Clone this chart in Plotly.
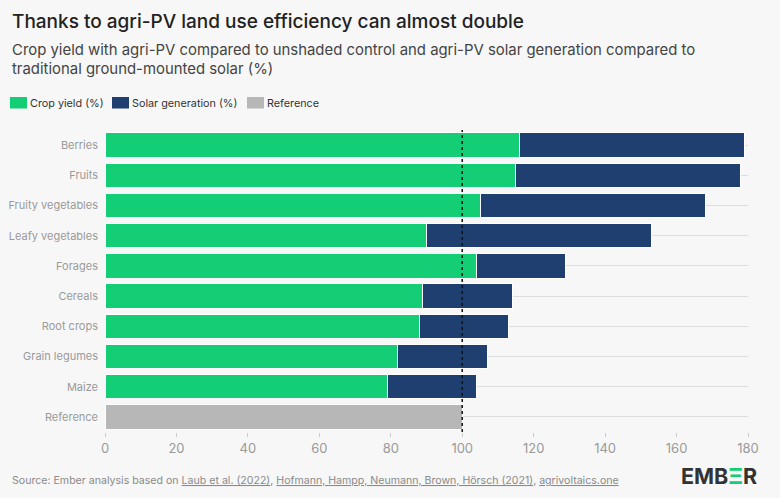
import plotly.graph_objects as go

categories = ["Berries", "Fruits", "Fruity vegetables", "Leafy vegetables", "Forages",
              "Cereals", "Root crops", "Grain legumes", "Maize", "Reference"]
crop_yield = [116, 115, 105, 90, 104, 89, 88, 82, 79, None]
solar_generation = [63, 63, 63, 63, 25, 25, 25, 25, 25, None]
reference = [None, None, None, None, None, None, None, None, None, 100]
x_ticks = [0, 20, 40, 60, 80, 100, 120, 140, 160, 180]

GREEN = "#13ce74"
BLUE = "#1f3f70"
GREY = "#b7b7b7"
BG = "#f7f7f7"
FONT = "Inter"

L, T, PW, PH = 105, 130, 643, 302


def px(x):
    return (x - L) / PW


def py(y):
    return 1 + (T - y) / PH


fig = go.Figure()
common = dict(orientation="h", y=categories, marker_line_color="white", marker_line_width=1,
              showlegend=False, hoverinfo="x+y")
fig.add_trace(go.Bar(x=crop_yield, name="Crop yield (%)", marker_color=GREEN, **common))
fig.add_trace(go.Bar(x=solar_generation, name="Solar generation (%)", marker_color=BLUE, **common))
fig.add_trace(go.Bar(x=reference, name="Reference", marker_color=GREY, **common))

fig.add_vline(x=100, line=dict(color="#111111", width=1.5, dash="dot"), layer="above")

fig.update_layout(
    barmode="stack",
    bargap=0.19,
    width=780, height=498,
    margin=dict(l=L, r=780 - L - PW, t=T, b=498 - T - PH, autoexpand=False),
    paper_bgcolor=BG, plot_bgcolor=BG,
    font=dict(family=FONT, color="#999999", size=12),
    xaxis=dict(range=[0, 180], tickvals=x_ticks, showgrid=False, zeroline=False,
               ticks="outside", ticklen=4, tickcolor="#cccccc", tickwidth=1,
               tickfont=dict(size=13, color="#9a9a9a"), showline=False, fixedrange=True,
               automargin=False),
    yaxis=dict(autorange="reversed", showgrid=True, gridcolor="#dddddd", gridwidth=1,
               tickfont=dict(size=11, color="#9a9a9a"), ticks="", ticklabelstandoff=6,
               showline=False, zeroline=False, fixedrange=True, automargin=False),
)

fig.add_annotation(text="Thanks to agri-PV land use efficiency can almost double",
                   xref="paper", yref="paper", x=px(10), y=py(21),
                   xanchor="left", yanchor="middle", showarrow=False,
                   font=dict(size=19, color="#222222", family=FONT, weight=500))
fig.add_annotation(text="Crop yield with agri-PV compared to unshaded control and agri-PV solar generation compared to<br>traditional ground-mounted solar (%)",
                   xref="paper", yref="paper", x=px(10), y=py(59),
                   xanchor="left", yanchor="middle", align="left", showarrow=False,
                   font=dict(size=14.9, color="#444444", family=FONT))

# custom legend
legend_items = [("Crop yield (%)", GREEN, 10, 28), ("Solar generation (%)", BLUE, 112, 130),
                ("Reference", GREY, 247, 265)]
for label, color, x0, xt in legend_items:
    fig.add_shape(type="rect", xref="paper", yref="paper",
                  x0=px(x0), x1=px(x0 + 17), y0=py(108.5), y1=py(97),
                  fillcolor=color, line_width=0)
    fig.add_annotation(text=label, xref="paper", yref="paper", x=px(xt),
                       y=py(103), xanchor="left", yanchor="middle",
                       showarrow=False, font=dict(size=10.8, color="#333333", family=FONT))

fig.add_annotation(text="Source: Ember analysis based on <u>Laub et al. (2022)</u>, <u>Hofmann, Hampp, Neumann, Brown, Hörsch (2021)</u>, <u>agrivoltaics.one</u>",
                   xref="paper", yref="paper", x=px(10), y=py(480),
                   xanchor="left", yanchor="middle", showarrow=False,
                   font=dict(size=10.6, color="#8a8a8a", family=FONT))
fig.add_annotation(text="<b>EMB<span style='color:#13ce74'>Ξ</span>R</b>",
                   xref="paper", yref="paper", x=px(759), y=py(476),
                   xanchor="right", yanchor="middle", showarrow=False,
                   font=dict(size=21.5, color="#333333", family=FONT))

fig.write_html("out.html", config={"displayModeBar": False},
               post_script="document.body.style.margin='0';document.body.style.background='#f7f7f7';")
